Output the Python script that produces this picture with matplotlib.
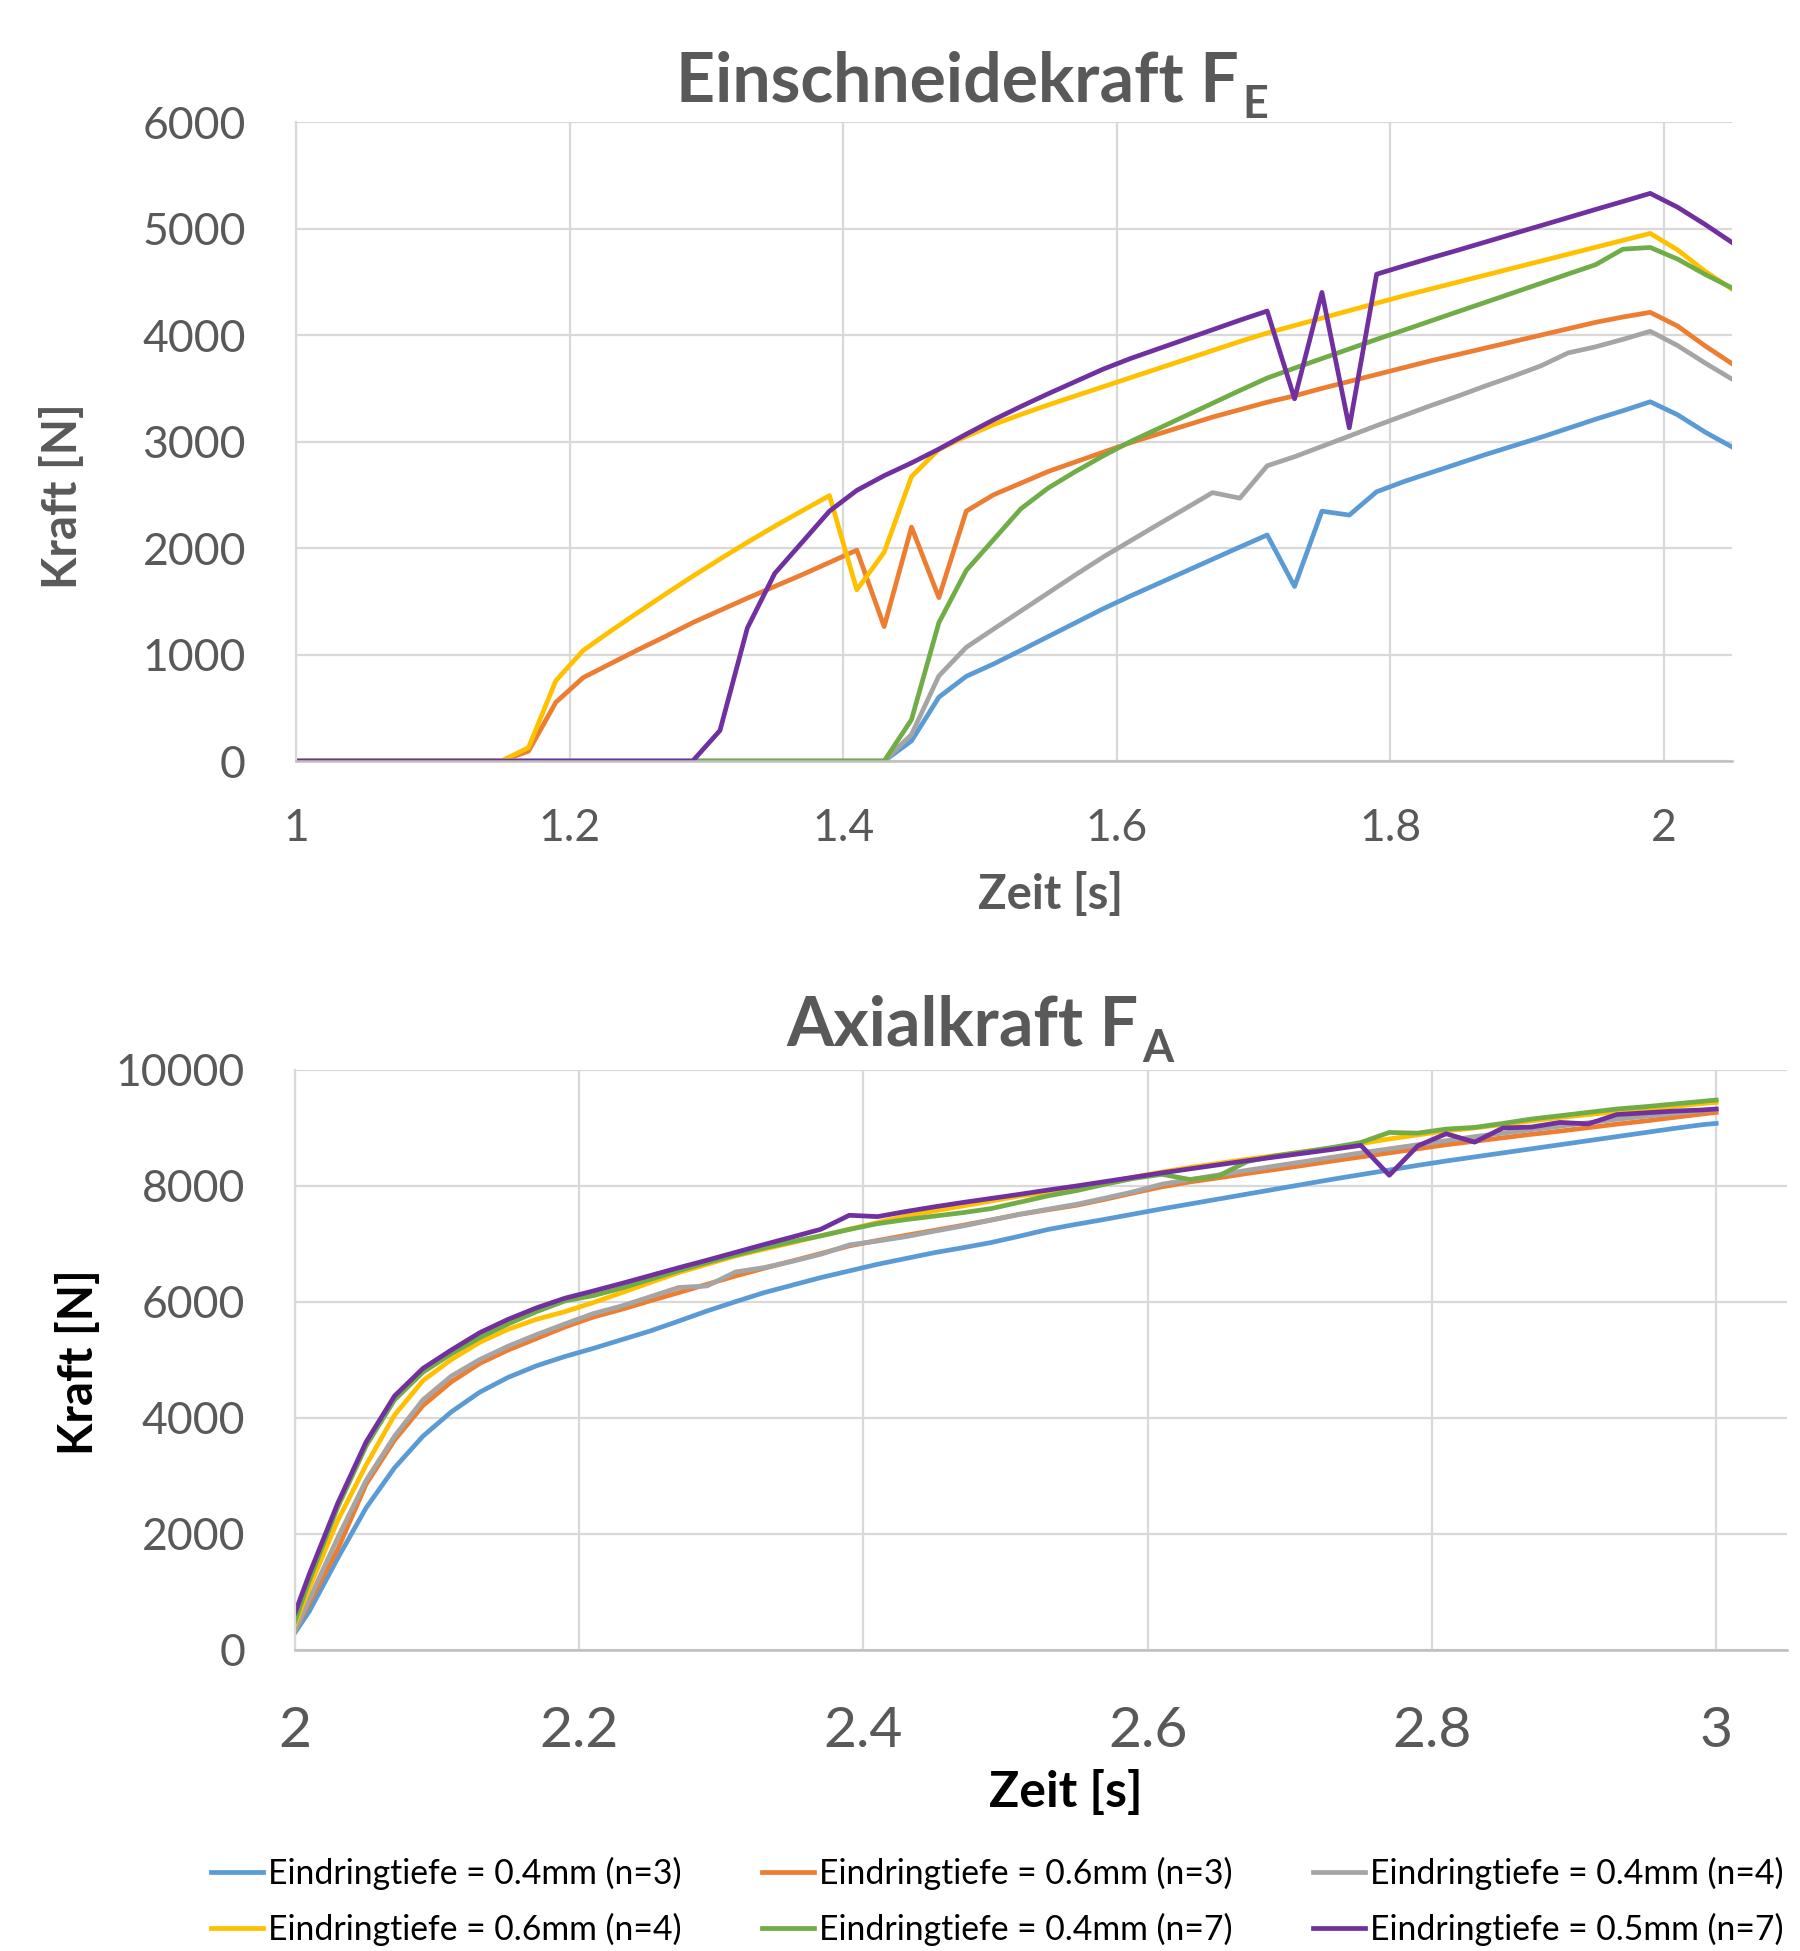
import numpy as np
import matplotlib
matplotlib.use("Agg")
import matplotlib.pyplot as plt
from matplotlib.ticker import MultipleLocator, FuncFormatter

plt.rcParams['font.family'] = ['Lato', 'DejaVu Sans']

# --- data -------------------------------------------------------------
# sample times (every 0.02 s)
t_top = np.round(np.arange(0.99, 2.06, 0.02), 2)
t_bot = np.concatenate([[2.0], np.round(np.arange(2.01, 3.0, 0.02), 2), [3.0]])

labels = ['Eindringtiefe = 0.4mm (n=3)', 'Eindringtiefe = 0.6mm (n=3)',
          'Eindringtiefe = 0.4mm (n=4)', 'Eindringtiefe = 0.6mm (n=4)',
          'Eindringtiefe = 0.4mm (n=7)', 'Eindringtiefe = 0.5mm (n=7)']
colors = ['#5B9BD5', '#ED7D31', '#A5A5A5', '#FFC000', '#70AD47', '#7030A0']

# Einschneidekraft F_E [N]
fe_04_n3 = [0] * 23 + [190, 600, 796, 912, 1040, 1170, 1300, 1430, 1550, 1665, 1780,
                       1895, 2010, 2123, 1640, 2347, 2310, 2529, 2625, 2710, 2795, 2880,
                       2960, 3040, 3125, 3210, 3290, 3374, 3252, 3090, 2948]
fe_06_n3 = [0] * 9 + [93, 552, 784, 915, 1045, 1170, 1300, 1415, 1530, 1640, 1750, 1865,
                      1981, 1263, 2197, 1535, 2347, 2501, 2610, 2720, 2810, 2900, 2990,
                      3070, 3150, 3230, 3300, 3370, 3430, 3500, 3565, 3630, 3695, 3760,
                      3820, 3880, 3940, 4000, 4060, 4120, 4170, 4214, 4085, 3900, 3730]
fe_04_n4 = [0] * 23 + [250, 800, 1068, 1240, 1410, 1580, 1750, 1915, 2068, 2220, 2370,
                       2521, 2469, 2773, 2858, 2955, 3052, 3150, 3245, 3340, 3430, 3525,
                       3615, 3711, 3833, 3890, 3960, 4036, 3902, 3739, 3585]
fe_06_n4 = [0] * 9 + [126, 755, 1039, 1220, 1395, 1567, 1735, 1897, 2054, 2205, 2350, 2493,
                      1608, 1961, 2672, 2927, 3049, 3160, 3255, 3345, 3430, 3515, 3600,
                      3685, 3770, 3855, 3940, 4020, 4090, 4160, 4230, 4300, 4370, 4435,
                      4500, 4565, 4630, 4695, 4760, 4825, 4890, 4955, 4800, 4600, 4430]
fe_04_n7 = [0] * 23 + [390, 1300, 1790, 2080, 2370, 2565, 2720, 2865, 3000, 3120, 3240,
                       3360, 3480, 3597, 3690, 3780, 3870, 3960, 4047, 4135, 4223, 4310,
                       4398, 4486, 4574, 4661, 4807, 4823, 4714, 4571, 4442]
fe_05_n7 = [0] * 16 + [288, 1250, 1762, 2054, 2347, 2542, 2680, 2800, 2930, 3070, 3205,
                       3330, 3450, 3565, 3680, 3780, 3870, 3960, 4050, 4140, 4226, 3402,
                       4401, 3130, 4572, 4650, 4726, 4800, 4876, 4952, 5028, 5104, 5180,
                       5255, 5331, 5201, 5040, 4868]

# Axialkraft F_A [N]
fa_04_n3 = [300, 665, 1580, 2450, 3140, 3685, 4105, 4445, 4700, 4900, 5060, 5200,
            5350, 5500, 5670, 5845, 6005, 6160, 6290, 6420, 6535, 6650, 6750, 6850,
            6935, 7025, 7135, 7250, 7340, 7425, 7515, 7605,
            7690, 7775, 7860, 7945, 8030, 8115, 8195, 8275, 8355, 8430, 8500, 8570,
            8640, 8710, 8780, 8850, 8920, 8990, 9055, 9078]
fa_06_n3 = [344, 807, 1733, 2857, 3618, 4213, 4623, 4940, 5172, 5370, 5569, 5740,
            5874, 6020, 6161, 6305, 6448, 6580, 6707, 6835, 6966, 7060, 7149, 7235,
            7322, 7415, 7511, 7590, 7667, 7770, 7880, 7985,
            8070, 8140, 8215, 8285, 8355, 8430, 8500, 8570, 8640, 8710, 8770, 8830,
            8890, 8945, 9005, 9065, 9120, 9180, 9240, 9268]
fa_04_n4 = [344, 873, 1931, 2923, 3684, 4312, 4722, 5007, 5238, 5437, 5622, 5800,
            5931, 6090, 6250, 6276, 6517, 6592, 6700, 6822, 6983, 7050, 7126, 7220,
            7310, 7410, 7511, 7600, 7684, 7790, 7900, 8030,
            8110, 8190, 8270, 8345, 8420, 8495, 8570, 8640, 8710, 8780, 8850, 8910,
            8970, 9030, 9090, 9150, 9200, 9250, 9300, 9320]
fa_06_n4 = [443, 1071, 2229, 3188, 4048, 4643, 5007, 5304, 5529, 5701, 5833, 5990,
            6161, 6335, 6506, 6650, 6793, 6910, 7023, 7140, 7253, 7370, 7483, 7570,
            7655, 7740, 7828, 7885, 7943, 8050, 8150, 8240,
            8320, 8390, 8460, 8525, 8590, 8655, 8730, 8810, 8880, 8950, 9000, 9060,
            9120, 9180, 9230, 9280, 9320, 9370, 9420, 9441]
fa_04_n7 = [500, 1200, 2460, 3518, 4312, 4788, 5106, 5384, 5622, 5833, 6018, 6110,
            6240, 6390, 6540, 6680, 6810, 6930, 7040, 7140, 7250, 7350, 7420, 7480,
            7540, 7610, 7720, 7830, 7920, 8030, 8130, 8200,
            8110, 8175, 8420, 8519, 8588, 8663, 8749, 8922, 8911, 8980, 9009, 9078,
            9153, 9210, 9268, 9326, 9366, 9412, 9458, 9481]
fa_05_n7 = [641, 1303, 2526, 3585, 4378, 4854, 5172, 5470, 5701, 5899, 6065, 6190,
            6320, 6455, 6590, 6720, 6855, 6990, 7120, 7253, 7494, 7471, 7560, 7640,
            7715, 7785, 7856, 7930, 8000, 8075, 8150, 8225,
            8295, 8365, 8435, 8500, 8565, 8630, 8700, 8184, 8690, 8900, 8755, 9000,
            9015, 9095, 9070, 9230, 9260, 9290, 9310, 9326]

fe_series = [fe_04_n3, fe_06_n3, fe_04_n4, fe_06_n4, fe_04_n7, fe_05_n7]
fa_series = [fa_04_n3, fa_06_n3, fa_04_n4, fa_06_n4, fa_04_n7, fa_05_n7]

TXT = '#595959'
W, H = 1800, 1951
fmt = FuncFormatter(lambda v, p: '%g' % v)


def style(ax, xsize, ysize, xpad, ypad):
    ax.grid(True, color='#D9D9D9', lw=1.6)
    ax.set_axisbelow(True)
    ax.spines['top'].set_visible(False)
    ax.spines['right'].set_visible(False)
    ax.spines['left'].set_color('#D9D9D9')
    ax.spines['left'].set_linewidth(1.6)
    ax.spines['bottom'].set_color('#BFBFBF')
    ax.spines['bottom'].set_linewidth(1.8)
    ax.tick_params(length=0, colors=TXT)
    ax.tick_params(axis='x', labelsize=xsize, pad=xpad)
    ax.tick_params(axis='y', labelsize=ysize, pad=ypad)
    ax.xaxis.set_major_formatter(fmt)


def title_sub(xc, ybase, main, sub, size):
    # title with a real subscript, centred on xc (pixels), baseline at ybase
    r = fig.canvas.get_renderer()
    t1 = fig.text(0, 1 - ybase / H, main, ha='left', va='baseline',
                  fontsize=size, fontweight='bold', color=TXT)
    t2 = fig.text(0, 1 - (ybase + 17) / H, sub, ha='left', va='baseline',
                  fontsize=size * 0.66, fontweight='bold', color=TXT)
    w1 = t1.get_window_extent(r).width
    w2 = t2.get_window_extent(r).width
    gap = 3
    x0 = xc - (w1 + gap + w2) / 2
    t1.set_x(x0 / W)
    t2.set_x((x0 + w1 + gap) / W)


fig = plt.figure(figsize=(18, 19.51), dpi=100)

# --- top: Einschneidekraft ---------------------------------------------
ax1 = fig.add_axes([0.1644, 0.6099, 0.798, 0.3275])
for y, c, lab in zip(fe_series, colors, labels):
    ax1.plot(t_top, y, color=c, lw=3.4, label=lab)
ax1.set_xlim(1, 2.05)
ax1.set_ylim(0, 6000)
ax1.xaxis.set_major_locator(MultipleLocator(0.2))
ax1.yaxis.set_major_locator(MultipleLocator(1000))
style(ax1, 32, 32, 34, 36)

# --- bottom: Axialkraft ------------------------------------------------
ax2 = fig.add_axes([0.1639, 0.1543, 0.829, 0.2973])
for y, c, lab in zip(fa_series, colors, labels):
    ax2.plot(t_bot, y, color=c, lw=3.4, label=lab)
ax2.set_xlim(2, 3.05)
ax2.set_ylim(0, 10000)
ax2.xaxis.set_major_locator(MultipleLocator(0.2))
ax2.yaxis.set_major_locator(MultipleLocator(2000))
style(ax2, 41, 32, 40, 36)

# titles and axis labels
title_sub(972, 101, 'Einschneidekraft F', 'E', 49)
title_sub(980, 1045, 'Axialkraft F', 'A', 49)

fig.text(1051 / W, 1 - 909 / H, 'Zeit [s]', ha='center', va='baseline',
         fontsize=34, fontweight='bold', color=TXT)
fig.text(63 / W, 1 - 496 / H, 'Kraft [N]', ha='center', va='center',
         rotation=90, fontsize=34, fontweight='bold', color=TXT)
fig.text(1066 / W, 1 - 1807 / H, 'Zeit [s]', ha='center', va='baseline',
         fontsize=36, fontweight='bold', color='black')
fig.text(79 / W, 1 - 1362 / H, 'Kraft [N]', ha='center', va='center',
         rotation=90, fontsize=34, fontweight='bold', color='black')

# legend, filled row by row like the original
h, l = ax2.get_legend_handles_labels()
order = [0, 3, 1, 4, 2, 5]
fig.legend([h[i] for i in order], [l[i] for i in order], ncol=3,
           loc='upper left', bbox_to_anchor=(211 / W, 1 - 1857 / H),
           frameon=False, fontsize=24.3, handlelength=1.53, handletextpad=0.15,
           columnspacing=2.4, labelspacing=0.66, borderpad=0, borderaxespad=0)

fig.savefig('out.png', dpi=100)
